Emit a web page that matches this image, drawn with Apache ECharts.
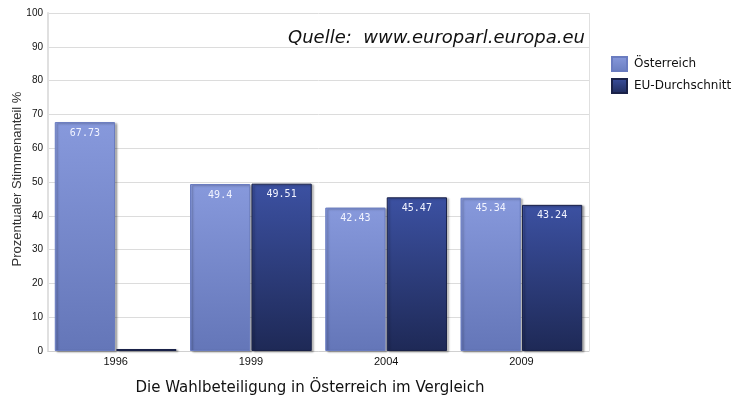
<!DOCTYPE html>
<html><head><meta charset="utf-8">
<script src="https://cdn.jsdelivr.net/npm/echarts@6/dist/echarts.min.js"></script>
<style>html,body{margin:0;padding:0;background:#fff}#c{width:738px;height:401px}</style>
</head><body><div id="c"></div>
<script>
var categories = ['1996', '1999', '2004', '2009'];
var oesterreich = [67.73, 49.4, 42.43, 45.34];
var euDurchschnitt = [0, 49.51, 45.47, 43.24];
var yTicks = [0, 10, 20, 30, 40, 50, 60, 70, 80, 90, 100];
var yAxisName = 'Prozentualer Stimmenanteil %';

var chart = echarts.init(document.getElementById('c'));
function grad(a, b) {
  return new echarts.graphic.LinearGradient(0, 0, 0, 1, [{offset: 0, color: a}, {offset: 1, color: b}]);
}
var labelCfg = {
  show: true, position: 'insideTop', distance: 6, color: '#f2f4ff',
  fontFamily: 'DejaVu Sans Mono', fontSize: 10,
  formatter: function (p) { return p.value ? String(p.value) : ''; }
};
chart.setOption({
  animation: false,
  grid: {left: 48, right: 149, top: 13, bottom: 50, outerBoundsMode: 'none', containLabel: false},
  title: [
    {text: 'Die Wahlbeteiligung in Österreich im Vergleich', left: 305, textAlign: 'center', top: 376,
     textStyle: {fontFamily: 'DejaVu Sans', fontSize: 15, fontWeight: 'normal', color: '#111'}},
    {text: 'Quelle:  www.europarl.europa.eu', right: 153, top: 29, padding: 0,
     textStyle: {fontFamily: 'DejaVu Sans', fontSize: 18, fontStyle: 'italic', fontWeight: 'normal', color: '#111'}}
  ],
  legend: {
    orient: 'vertical', left: 611, top: 56, itemWidth: 15, itemHeight: 14, itemGap: 6, padding: 0,
    icon: 'rect',
    textStyle: {fontFamily: 'DejaVu Sans', fontSize: 12, color: '#111', padding: [0, 0, 0, 2]},
    data: [
      {name: 'Österreich', itemStyle: {color: grad('#8799dc', '#6a7ec0')}},
      {name: 'EU-Durchschnitt', itemStyle: {color: grad('#3a4f9e', '#1f2b5a')}}
    ]
  },
  xAxis: {
    type: 'category', data: categories,
    axisLine: {show: true, lineStyle: {color: '#d0d0d0'}},
    axisTick: {show: false},
    axisLabel: {color: '#111', fontFamily: 'Liberation Sans', fontSize: 11, margin: 5}
  },
  yAxis: {
    type: 'value', min: 0, max: 100, interval: 10,
    axisLine: {show: true, lineStyle: {color: '#e0e0e0', width: 2}},
    axisTick: {show: false},
    axisLabel: {color: '#111', fontFamily: 'Liberation Sans', fontSize: 10, margin: 5,
      formatter: function (v) { return yTicks.indexOf(v) >= 0 ? String(v) : ''; }},
    splitLine: {lineStyle: {color: '#dcdcdc', width: 1}}
  },
  series: [
    {name: 'Österreich', type: 'bar', data: oesterreich, barGap: '2%', barCategoryGap: '10%',
     itemStyle: {color: grad('#8799dc', '#6476b8'), borderColor: '#6a7cc0', borderWidth: 1,
       shadowColor: 'rgba(0,0,0,0.3)', shadowBlur: 2, shadowOffsetX: 2, shadowOffsetY: 1},
     label: labelCfg},
    {name: 'EU-Durchschnitt', type: 'bar', data: euDurchschnitt, barMinHeight: 2,
     itemStyle: {color: grad('#3c51a2', '#1e2956'), borderColor: '#1a2248', borderWidth: 1,
       shadowColor: 'rgba(0,0,0,0.3)', shadowBlur: 2, shadowOffsetX: 2, shadowOffsetY: 1},
     label: labelCfg}
  ],
  graphic: [
    {type: 'line', shape: {x1: 589.5, y1: 13, x2: 589.5, y2: 351}, style: {stroke: '#e0e0e0', lineWidth: 1}},
    {type: 'text', x: 17, y: 179, rotation: Math.PI / 2,
     style: {text: yAxisName, font: '13px "Liberation Sans"', fill: '#333', align: 'center', verticalAlign: 'middle'}}
  ]
});
</script></body></html>
